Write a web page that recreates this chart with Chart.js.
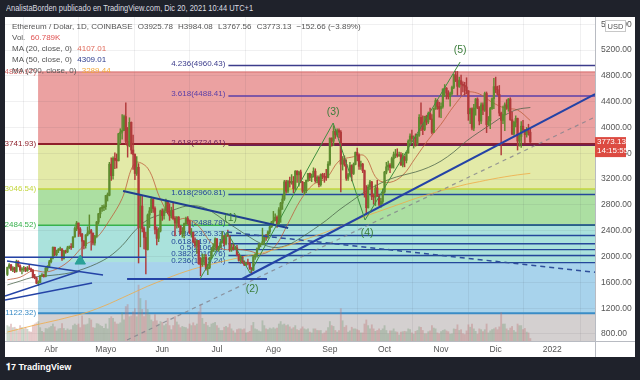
<!DOCTYPE html>
<html>
<head>
<meta charset="utf-8">
<script src="https://cdn.jsdelivr.net/npm/chart.js@4.4.1/dist/chart.umd.min.js"></script>
<style>
  body { margin: 0; width: 640px; height: 380px; background: #1f222b; overflow: hidden; position: relative;
         font-family: "Liberation Sans", Arial, sans-serif; }
  #head { position: absolute; left: 6px; top: 3px; color: #dcdde2; font-size: 8.5px; white-space: nowrap;
          transform: scaleX(0.88); transform-origin: left top; }
  #frame { position: absolute; left: 5px; top: 17px; width: 630px; height: 340px; background: #fff; }
  #legend { position: absolute; left: 7px; top: 4px; font-size: 8px; line-height: 11px; color: #555; white-space: nowrap; }
  #legend span { margin-left: 3px; }
  #foot { position: absolute; left: 6px; top: 362px; color: #fff; font-size: 9px; font-weight: bold; }
</style>
</head>
<body>
<div id="head">AnalistaBorden publicado en TradingView.com, Dic 20, 2021 10:44 UTC+1</div>
<div id="frame">
  <canvas id="chart" width="630" height="340"></canvas>
  <div id="legend">
    <div>Ethereum / Dolar, 1D, COINBASE <span>O3925.78</span> <span>H3984.08</span> <span>L3767.56</span> <span>C3773.13</span> <span>&minus;152.66 (&minus;3.89%)</span></div>
    <div>Vol. <span style="color:#e05252">60.789K</span></div>
    <div>MA (20, close, 0) <span style="color:#e06a5a">4107.01</span></div>
    <div>MA (50, close, 0) <span style="color:#2b3a8c">4309.01</span></div>
    <div>MA (200, close, 0) <span style="color:#f2a83a">3289.44</span></div>
  </div>
</div>
<div id="foot">&#x1D7CF;7 TradingView</div>

<script>
// velas diarias desde el 8 de marzo de 2021 (índice 0) hasta el 20 de diciembre (índice 287)
const opens = [
  1723,1833,1870,1795,1825,1770,1923,1854,1792,1806,1823,1780,1811,1808,1787,1681,1670,1587,1595,1702,1716,1691,1819,1847,
  1919,1977,2143,2029,2093,2108,2116,1971,2085,2073,2135,2153,2141,2303,2434,2519,2426,2348,2237,2168,2335,2365,2401,2364,2210,2316,2534,2662,2746,2757,
  2773,2945,2950,3431,3253,3522,3490,3484,3903,3928,3952,4168,3785,3716,4080,3650,3582,3287,3383,2446,2782,2433,2297,2108,2644,2707,2890,2744,2420,2282,2395,
  2707,2633,2708,2856,2689,2630,2712,2591,2518,2610,2472,2355,2372,2508,2589,2549,2368,2372,2231,2177,2247,1889,1875,1969,1988,1811,1830,1982,2084,2160,
  2275,2113,2150,2225,2322,2197,2323,2318,2116,2146,2114,2138,2031,1941,1993,1914,1877,1897,1895,1818,1788,1994,2026,2124,2188,2191,2231,2300,2298,2382,2460,
  2537,2557,2609,2506,2724,2827,2892,3157,3012,3163,3142,3166,3050,3322,3266,3310,3151,3012,3018,3182,3287,3225,3242,3322,3172,3227,3114,3271,3243,3227,3225,
  3433,3833,3787,3940,3887,3952,3927,3432,3497,3428,3212,3268,3410,3287,3428,3612,3573,3398,3432,3330,2977,2757,3078,3155,2930,2922,3062,2934,2807,2853,
  3001,3308,3390,3418,3381,3517,3577,3587,3560,3577,3418,3540,3490,3604,3789,3867,3829,3848,3744,3878,4156,4056,3969,4172,4085,4218,4131,3925,4288,4417,4325,
  4289,4325,4596,4606,4533,4478,4522,4620,4813,4735,4637,4726,4667,4651,4627,4569,4212,4290,3990,4300,4440,4320,4100,4350,4270,4526,4045,4100,4294,4445,
  4632,4586,4514,4222,4110,4200,4350,4310,4440,4120,3900,4080,4140,3790,3860,4020,3960,3890,3960,3925.78
];
const highs = [
  1838,1890,1878,1845,1835,1945,1935,1870,1830,1848,1835,1846,1880,1820,1800,1725,1680,1625,1710,1735,1728,1830,1860,1942,
  1990,2150,2145,2100,2125,2145,2125,2095,2100,2160,2165,2200,2310,2460,2545,2520,2450,2360,2250,2340,2460,2645,2420,2365,2330,2545,2670,2760,2795,2800,
  2950,2985,3460,3530,3545,3605,3590,3910,3980,4200,4190,4380,4000,4150,4085,3880,3590,3550,3440,2940,2940,2460,2380,2660,2760,2920,2895,2770,2460,2445,2720,
  2740,2740,2890,2860,2820,2765,2840,2620,2620,2620,2480,2450,2520,2610,2620,2560,2435,2380,2290,2255,2250,1985,2040,2035,2030,1885,1990,2140,2200,2290,
  2280,2160,2240,2390,2325,2350,2410,2320,2190,2200,2160,2175,2040,2010,2000,1935,1915,1960,1905,1830,2020,2045,2135,2200,2200,2440,2320,2345,2400,2470,2545,
  2700,2660,2630,2760,2840,2950,3180,3180,3180,3230,3270,3240,3330,3330,3325,3340,3165,3150,3185,3290,3295,3280,3375,3360,3250,3250,3280,3290,3290,3350,3470,
  3840,3840,4027,3970,3980,3980,3950,3550,3560,3500,3290,3460,3420,3450,3620,3680,3590,3480,3445,3340,3100,3110,3180,3165,2970,3110,3180,2960,2900,3050,
  3320,3460,3480,3440,3540,3620,3660,3670,3620,3610,3600,3560,3615,3810,3900,3960,3870,3900,3895,4200,4380,4180,4175,4190,4240,4300,4200,4300,4450,4430,4390,
  4380,4600,4665,4620,4570,4550,4640,4825,4868,4868,4780,4810,4705,4700,4770,4570,4300,4305,4360,4450,4460,4320,4380,4380,4550,4550,4170,4310,4460,4760,
  4780,4640,4650,4240,4330,4380,4430,4450,4460,4240,4100,4180,4145,3890,4090,4110,3970,4000,4050,3984.08
];
const lows = [
  1705,1815,1780,1765,1750,1760,1840,1770,1730,1770,1765,1770,1795,1765,1670,1655,1580,1550,1595,1690,1680,1685,1780,1838,
  1900,1965,2010,2010,2060,2090,1940,1960,2050,2060,2120,2110,2140,2300,2400,2310,2310,1950,2120,2130,2320,2350,2100,2180,2175,2300,2500,2600,2700,2710,
  2730,2860,2940,3180,3200,3360,3370,3480,3750,3820,3950,3740,3540,3700,3590,3350,3190,3255,1900,2150,2380,2120,1730,2100,2450,2680,2685,2350,2180,2230,2380,
  2560,2580,2700,2660,2560,2600,2580,2320,2440,2450,2340,2300,2290,2490,2500,2350,2300,2210,2140,2050,1880,1700,1850,1870,1790,1720,1810,1965,2080,2100,
  2090,2080,2140,2210,2160,2180,2310,2080,2080,2100,2110,2010,1930,1895,1895,1860,1860,1870,1800,1718,1780,1955,1990,2110,2150,2180,2190,2250,2280,2350,2450,
  2480,2550,2450,2500,2530,2730,2870,2980,2990,3075,3120,2990,3030,3150,3090,3150,2990,2960,2990,3165,3175,3160,3230,3150,3140,3080,3090,3200,3150,3180,3220,
  3410,3710,3720,3830,3860,3840,3000,3340,3400,3180,3180,3240,3170,3270,3420,3480,3350,3350,3300,2920,2650,2750,3040,2880,2810,2790,2930,2790,2760,2820,
  2980,3280,3340,3300,3370,3370,3530,3540,3550,3410,3390,3390,3450,3600,3740,3780,3680,3710,3720,3860,3950,3890,3950,4040,4060,4120,3900,3920,4280,4280,4160,
  4150,4300,4480,4440,4440,4330,4500,4600,4710,4500,4620,4500,4550,4500,4520,4110,4060,3960,3950,4190,4290,4040,4060,4200,4250,3920,4030,3980,4280,4290,
  4540,4500,4180,3575,4060,3950,4280,4250,4110,3890,3880,4010,3650,3710,3690,3950,3760,3850,3880,3767.56
];
const closes = [
  1833,1870,1795,1825,1770,1923,1854,1792,1806,1823,1780,1811,1808,1787,1681,1670,1587,1595,1702,1716,1691,1819,1847,1919,
  1977,2143,2029,2093,2108,2116,1971,2085,2073,2135,2153,2141,2303,2434,2519,2426,2348,2237,2168,2335,2365,2401,2364,2210,2316,2534,2662,2746,2757,2773,
  2945,2950,3431,3253,3522,3490,3484,3903,3928,3952,4168,3785,3716,4080,3650,3582,3287,3383,2446,2782,2433,2297,2108,2644,2707,2890,2744,2420,2282,2395,2707,
  2633,2708,2856,2689,2630,2712,2591,2518,2610,2472,2355,2372,2508,2589,2549,2368,2372,2231,2177,2247,1889,1875,1969,1988,1811,1830,1982,2084,2160,2275,
  2113,2150,2225,2322,2197,2323,2318,2116,2146,2114,2138,2031,1941,1993,1914,1877,1897,1895,1818,1788,1994,2026,2124,2188,2191,2231,2300,2298,2382,2460,2537,
  2557,2609,2506,2724,2827,2892,3157,3012,3163,3142,3166,3050,3322,3266,3310,3151,3012,3018,3182,3287,3225,3242,3322,3172,3227,3114,3271,3243,3227,3225,3433,
  3833,3787,3940,3887,3952,3927,3432,3497,3428,3212,3268,3410,3287,3428,3612,3573,3398,3432,3330,2977,2757,3078,3155,2930,2922,3062,2934,2807,2853,3001,
  3308,3390,3418,3381,3517,3577,3587,3560,3577,3418,3540,3490,3604,3789,3867,3829,3848,3744,3878,4156,4056,3969,4172,4085,4218,4131,3925,4288,4417,4325,4289,
  4325,4596,4606,4533,4478,4522,4620,4813,4735,4637,4726,4667,4651,4627,4569,4212,4290,3990,4300,4440,4320,4100,4350,4270,4526,4045,4100,4294,4445,4632,
  4586,4514,4222,4110,4200,4350,4310,4440,4120,3900,4080,4140,3790,3860,4020,3960,3890,3960,3926,3773.13
];
// volumen en miles de ETH
const volumes = [
  380,350,420,330,340,300,260,380,330,300,340,290,230,220,390,420,450,480,330,240,210,310,300,330,
  360,420,350,250,300,310,430,310,260,300,270,280,380,420,390,420,330,620,400,400,420,560,520,330,320,430,420,380,360,310,
  420,300,560,600,560,470,420,420,450,700,520,850,900,600,620,720,800,600,1380,1050,780,600,1000,780,650,520,480,650,500,420,480,
  460,380,420,560,380,280,380,600,470,400,330,360,340,330,300,420,380,450,380,420,720,900,560,420,460,380,340,420,440,460,
  380,320,260,260,340,360,330,420,300,250,200,280,300,300,280,300,200,210,240,380,460,300,280,250,230,500,380,300,280,320,300,
  330,300,320,420,480,400,420,380,400,350,300,330,380,280,260,300,350,300,280,300,220,200,300,300,260,260,260,180,200,250,330,
  480,380,360,260,220,260,800,500,340,380,220,250,340,300,300,280,260,200,200,420,520,380,300,400,300,240,260,300,260,300,
  380,260,180,250,250,300,230,220,150,220,230,240,230,300,280,200,170,240,260,350,340,260,180,180,230,250,380,320,300,200,180,
  230,260,280,250,230,170,180,300,290,400,260,280,180,160,250,400,340,420,300,240,170,300,280,230,280,420,200,250,280,300,
  330,280,350,700,420,420,300,260,320,360,260,220,420,380,380,280,310,220,200,61
];

// medias móviles (una lectura por semana)
const maDays = [0,7,14,21,28,35,42,49,56,63,70,77,84,91,98,105,112,119,126,133,140,147,154,161,168,175,182,189,196,203,210,217,224,231,238,245,252,259,266,273,280,287];
const ma20 = [1640,1680,1780,1760,1820,1960,2170,2290,2560,2900,3450,3370,2890,2570,2590,2470,2210,2110,2115,2085,2040,2160,2510,2880,3120,3210,3480,3540,3560,3200,3150,3260,3530,3810,4050,4330,4540,4520,4390,4300,4270,4107];
const ma50 = [1560,1620,1680,1700,1720,1750,1810,1890,2000,2170,2400,2570,2650,2720,2780,2780,2700,2560,2430,2300,2190,2140,2180,2290,2420,2560,2720,2860,3000,3110,3200,3260,3310,3380,3480,3620,3790,3930,4060,4190,4280,4309];
const ma200 = [830,880,930,975,1020,1070,1120,1190,1270,1360,1450,1540,1620,1700,1770,1830,1880,1930,1975,2020,2060,2110,2170,2240,2310,2380,2460,2540,2620,2690,2760,2830,2900,2960,3020,3070,3120,3160,3200,3235,3265,3289];

// ejes
const monthTickDays = [24,54,85,115,146,177,207,238,268,299];
const monthLabels = ['Abr','Mayo','Jun','Jul','Ago','Sep','Oct','Nov','Dic','2022'];
const priceTicks = [800,1200,1600,2000,2400,2800,3200,3600,4000,4400,4800,5200,5600];

// Fibonacci de la izquierda (zonas de color)
const zoneStartDay = 16.85;
const zoneLevels = [4859.97, 3741.93, 3046.54, 2484.52, 1915, 1122.32, 0];
const zoneColors = ['#eba1a1', '#e3eaa8', '#acdfa2', '#aae2dc', '#a8d3ec', '#d4d0d0'];
const zoneLabelDay = 15.8;
const zoneLabels = ['4859.97)', '3741.93)', '3046.54)', '2484.52)', '', '1122.32)'];
const zoneLineColors = ['#d46a6a', '#8e1f2a', '#c3d63c', '#37b24d', null, '#3a8cc6'];
const zoneLineWidths = [1, 2, 1.5, 1.5, 0, 2];

// Fibonacci de extensión (líneas azules)
const fibDayStart = 121.3;
const fibRatios = ['4.236', '3.618', '2.618', '1.618', '1', '0.786', '0.618', '0.5', '0.382', '0.236'];
const fibPrices = [4960.43, 4488.41, 3724.61, 2960.81, 2488.78, 2325.33, 2197.81, 2106.88, 2016.76, 1905.24];
const fibColors = ['#3c3c8c', '#5b3fa8', '#6b2058', '#24479a', '#24479a', '#24479a', '#24479a', '#24479a', '#24479a', '#24479a'];

// líneas de tendencia [día, precio]
const trendMain = [[128.8, 1652], [322.5, 4518]];
const triangleTop = [[63.5, 3015], [154.1, 2442]];
const baseLine = [[65.7, 1652], [142.5, 1652]];
const leftLine1 = [[-1.3, 1327], [46.5, 1590]];
const leftLine2 = [[-1.3, 1389], [39.9, 1776]];
const leftLine3 = [[-0.2, 1931], [52.5, 1714]];
const leftFlat = [[-1.3, 1988], [76.1, 1988]];
const dashedBlue = [[120.6, 2380], [322.5, 1757]];
const dashedGray = [[65.7, 707], [322.5, 4162]];

// ondas de Elliott
const wavePath = [[105.7, 1652], [120.6, 2380], [133.2, 1745], [178.8, 4069], [196.3, 2566], [248.5, 5014]];
const waveLabels = ['(1)', '(2)', '(3)', '(4)', '(5)'];
const waveLabelDays = [122.5, 134.3, 178.8, 197.4, 248.5];
const waveLabelPrices = [2600, 1497, 4239, 2365, 5200];
const arrowPoint = [[40, 1930]];

const lastPrice = 3773.13;
const countdown = '14:15:55';

const UP = '#5e8c30';
const DOWN = '#b13a3b';

function pts(arr) { return arr.map(p => ({ x: p[0], y: p[1] })); }
function isUp(i) { return closes[i] >= opens[i]; }

function trend(data, color, width, dash) {
  return { type: 'line', data: pts(data), borderColor: color, borderWidth: width, borderDash: dash || [],
           pointRadius: 0, tension: 0, order: 1 };
}

const overlay = {
  id: 'overlay',
  beforeDraw(chart) {
    const { ctx, chartArea: a, scales: { x, y } } = chart;
    ctx.save();
    ctx.beginPath(); ctx.rect(a.left, a.top, a.width, a.height); ctx.clip();
    const xl = x.getPixelForValue(zoneStartDay);
    for (let i = 0; i < zoneColors.length; i++) {
      const y1 = y.getPixelForValue(zoneLevels[i]);
      const y2 = y.getPixelForValue(zoneLevels[i + 1]);
      ctx.fillStyle = zoneColors[i];
      ctx.fillRect(xl, y1, a.right - xl, y2 - y1);
    }
    ctx.restore();
  },
  beforeDatasetsDraw(chart) {
    const { ctx, chartArea: a, scales: { x, y } } = chart;
    ctx.save();
    ctx.beginPath(); ctx.rect(a.left, a.top, a.width, a.height); ctx.clip();
    ctx.font = '8px "Liberation Sans", Arial, sans-serif';
    // niveles de la izquierda
    const xl = x.getPixelForValue(zoneStartDay);
    const xt = x.getPixelForValue(zoneLabelDay);
    for (let i = 0; i < zoneLabels.length; i++) {
      const yy = y.getPixelForValue(zoneLevels[i]);
      if (zoneLineColors[i]) {
        ctx.strokeStyle = zoneLineColors[i];
        ctx.lineWidth = zoneLineWidths[i];
        ctx.beginPath(); ctx.moveTo(xl, yy); ctx.lineTo(a.right, yy); ctx.stroke();
      }
      if (zoneLabels[i]) {
        ctx.fillStyle = zoneLineColors[i];
        ctx.textAlign = 'right'; ctx.textBaseline = 'middle';
        ctx.fillText(zoneLabels[i], xt, yy);
      }
    }
    // extensión de Fibonacci
    const xf = x.getPixelForValue(fibDayStart);
    for (let i = 0; i < fibPrices.length; i++) {
      const yy = y.getPixelForValue(fibPrices[i]);
      ctx.strokeStyle = fibColors[i];
      ctx.lineWidth = 1.4;
      ctx.beginPath(); ctx.moveTo(xf, yy); ctx.lineTo(a.right, yy); ctx.stroke();
      ctx.fillStyle = fibColors[i];
      ctx.textAlign = 'right'; ctx.textBaseline = 'middle';
      ctx.fillText(fibRatios[i] + '(' + fibPrices[i].toFixed(2) + ')', xf - 3, yy - 2);
    }
    ctx.restore();
  },
  afterDatasetsDraw(chart) {
    const { ctx, scales: { x, y } } = chart;
    ctx.save();
    ctx.font = '10.5px "Liberation Sans", Arial, sans-serif';
    ctx.fillStyle = '#3b7d3b';
    ctx.textAlign = 'center'; ctx.textBaseline = 'middle';
    waveLabels.forEach((t, i) => ctx.fillText(t, x.getPixelForValue(waveLabelDays[i]), y.getPixelForValue(waveLabelPrices[i])));
    ctx.restore();
  },
  afterDraw(chart) {
    const { ctx, chartArea: a, scales: { y } } = chart;
    ctx.save();
    // bordes de los ejes
    ctx.strokeStyle = '#b8bbc2'; ctx.lineWidth = 1;
    ctx.beginPath();
    ctx.moveTo(a.right + 0.5, 0); ctx.lineTo(a.right + 0.5, chart.height);
    ctx.moveTo(0, a.bottom + 0.5); ctx.lineTo(chart.width, a.bottom + 0.5);
    ctx.stroke();
    // etiqueta del precio actual
    const yp = y.getPixelForValue(lastPrice);
    ctx.fillStyle = '#dc4a41';
    ctx.fillRect(a.right, yp - 5, 31, 20);
    ctx.fillStyle = '#fff';
    ctx.font = '8px "Liberation Sans", Arial, sans-serif';
    ctx.textAlign = 'left'; ctx.textBaseline = 'middle';
    ctx.fillText(lastPrice.toFixed(2), a.right + 2, yp);
    ctx.fillText(countdown, a.right + 2, yp + 9);
    // caja USD
    ctx.fillStyle = '#fff'; ctx.strokeStyle = '#c8c8c8';
    ctx.fillRect(a.right + 10.5, 3.5, 20, 11);
    ctx.strokeRect(a.right + 10.5, 3.5, 20, 11);
    ctx.fillStyle = '#555';
    ctx.font = '7.5px "Liberation Sans", Arial, sans-serif';
    ctx.textAlign = 'center';
    ctx.fillText('USD', a.right + 20.5, 9.5);
    ctx.restore();
  }
};

const idx = closes.map((c, i) => i);

const datasets = [
  { type: 'bar', label: 'Vol', yAxisID: 'yv', grouped: false, barThickness: 1.2, order: 10,
    data: idx.map(i => ({ x: i, y: volumes[i] })),
    backgroundColor: idx.map(i => isUp(i) ? 'rgba(120,155,120,0.38)' : 'rgba(190,115,115,0.38)') },
  { type: 'line', label: 'MA200', data: maDays.map((d, i) => ({ x: d, y: ma200[i] })), borderColor: 'rgba(240,170,70,0.8)', borderWidth: 1, pointRadius: 0, tension: 0.35, order: 6 },
  { type: 'line', label: 'MA50', data: maDays.map((d, i) => ({ x: d, y: ma50[i] })), borderColor: 'rgba(70,95,70,0.75)', borderWidth: 1, pointRadius: 0, tension: 0.35, order: 6 },
  { type: 'line', label: 'MA20', data: maDays.map((d, i) => ({ x: d, y: ma20[i] })), borderColor: 'rgba(190,95,60,0.8)', borderWidth: 1, pointRadius: 0, tension: 0.35, order: 6 },
  { type: 'bar', label: 'Mechas', grouped: false, barThickness: 0.8, order: 3,
    data: idx.map(i => ({ x: i, y: [lows[i], highs[i]] })),
    backgroundColor: idx.map(i => isUp(i) ? UP : DOWN) },
  { type: 'bar', label: 'Velas', grouped: false, barThickness: 1.6, order: 2, minBarLength: 1,
    data: idx.map(i => ({ x: i, y: [opens[i], closes[i]] })),
    backgroundColor: idx.map(i => isUp(i) ? UP : DOWN) },
  { type: 'line', label: 'Ondas', data: pts(wavePath), borderColor: '#3f8f3f', borderWidth: 1, pointRadius: 0, tension: 0, order: 1 },
  trend(trendMain, '#2443a6', 2),
  trend(triangleTop, '#1f3f8f', 2),
  trend(baseLine, '#2443a6', 2),
  trend(leftLine1, '#2443a6', 1.5),
  trend(leftLine2, '#2443a6', 1.5),
  trend(leftLine3, '#2443a6', 1.5),
  trend(leftFlat, '#2443a6', 1.5),
  trend(dashedBlue, '#2f4f9a', 1.5, [5, 4]),
  trend(dashedGray, 'rgba(130,130,140,0.8)', 1.2, [4, 4]),
  { type: 'line', label: 'Flecha', data: pts(arrowPoint), showLine: false, pointStyle: 'triangle',
    pointRadius: 6, pointBackgroundColor: '#2aa198', pointBorderColor: '#2aa198', order: 0 }
];

new Chart(document.getElementById('chart'), {
  type: 'bar',
  data: { datasets: datasets },
  options: {
    responsive: false,
    animation: false,
    layout: { padding: 0, autoPadding: false },
    plugins: { legend: { display: false }, tooltip: { enabled: false } },
    scales: {
      x: {
        type: 'linear', min: -1.3, max: 322.5, offset: false,
        grid: { color: 'rgba(60,60,80,0.08)', drawTicks: false },
        border: { display: false },
        ticks: { autoSkip: false, maxRotation: 0, padding: 4, color: '#555',
                 font: { size: 8.5, family: '"Liberation Sans", Arial, sans-serif' },
                 callback: (v, i) => monthLabels[i] },
        afterBuildTicks: s => { s.ticks = monthTickDays.map(v => ({ value: v })); },
        afterFit: s => { s.height = 16; s.paddingLeft = 0; s.paddingRight = 0; }
      },
      y: {
        position: 'right', min: 691.5, max: 5711.3,
        grid: { color: 'rgba(60,60,80,0.08)', drawTicks: false },
        border: { display: false },
        ticks: { padding: 6, color: '#555', font: { size: 8.5, family: '"Liberation Sans", Arial, sans-serif' },
                 callback: v => v.toFixed(2) },
        afterBuildTicks: s => { s.ticks = priceTicks.map(v => ({ value: v })); },
        afterFit: s => { s.width = 40; s.paddingTop = 0; s.paddingBottom = 0; }
      },
      yv: { display: false, min: 0, max: 8000 }
    }
  },
  plugins: [overlay]
});
</script>
</body>
</html>
